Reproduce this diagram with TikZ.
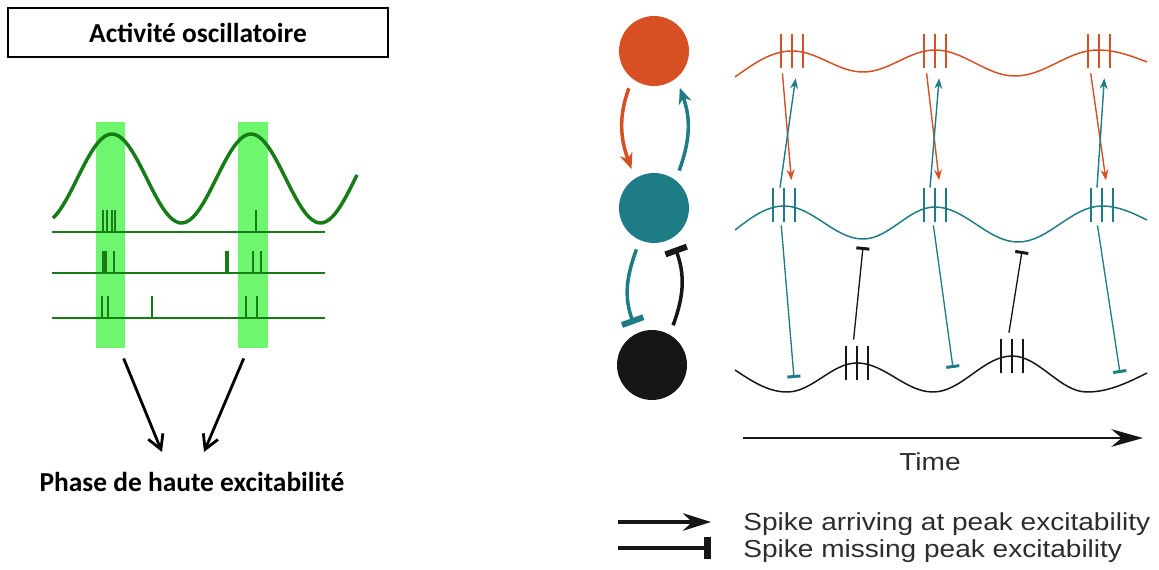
\documentclass[tikz,border=0pt]{standalone}
\usepackage{fontspec}
\newfontfamily\calibri{Carlito}
\newfontfamily\arial[FakeStretch=1.14]{Liberation Sans}
\usetikzlibrary{arrows.meta,positioning}
\definecolor{orng}{RGB}{214,80,36}
\definecolor{canard}{RGB}{30,124,134}
\definecolor{encre}{RGB}{22,22,22}
\definecolor{vertfonce}{RGB}{22,125,22}
\definecolor{vertclair}{RGB}{110,246,110}
\definecolor{gristexte}{RGB}{45,45,45}

\begin{document}
\begin{tikzpicture}[x=0.02cm,y=-0.02cm,
	titre/.style={font=\calibri\bfseries\fontsize{15.6}{18}\selectfont},
	txt/.style={font=\arial\fontsize{14}{17}\selectfont, text=gristexte, inner sep=0pt},
	bande/.style={fill=vertclair, inner sep=0pt, minimum width=0.59cm, minimum height=4.52cm},
	fleche/.style={line width=1.6pt, -{Straight Barb[length=8pt,width=9pt]}},
	neur/.style={circle, inner sep=0pt, minimum size=1.4cm, outer sep=0.2cm},
	wave/.style={line width=0.85pt},
	burst/.style={inner sep=0pt, minimum width=0.5cm, minimum height=0.68cm},
	exc/.style={line width=0.8pt, -{Stealth[length=6pt,width=4.5pt]}},
	inh/.style={line width=0.75pt, -{Bar[width=7.5pt,line width=1.7pt]}},
	fb/.style={line width=2pt, -{Stealth[length=9pt,width=7.5pt]}},
	fbinh/.style={line width=2pt, -{Bar[width=13pt,line width=3.4pt]}}]
	\useasboundingbox (0,0) rectangle (1159,570);

	\node[titre, draw, line width=1.5pt, minimum width=7.6cm, minimum height=0.98cm] (act) at (198,32.5) {Activité oscillatoire};
	\node[bande] (bande1) at (110.5,235) {};
	\node[bande] (bande2) at (253,235) {};
	\draw[vertfonce, line width=2pt] plot[domain=53:357, samples=90] (\x, {178.5-44.5*cos((\x-112)/139*360)});
	\foreach \y/\s in {232/{103,107,112,115,256}, 273/{103,105,106,114,226,228,253,261}, 318/{102,108,152,246,257}} {
		\draw[vertfonce, line width=1.5pt] (52,\y) -- (325,\y);
		\foreach \x in \s
			\draw[vertfonce, line width=1.1pt] (\x,\y) -- (\x,\y-22);
	}
	\node[titre] (phase) at (192,482) {Phase de haute excitabilité};
	\coordinate (pointe1) at (162,452);
	\coordinate (pointe2) at (204,452);
	\path[fleche, shorten <=0.22cm]
		([xshift=0.18cm]bande1.south) edge (pointe1)
		([xshift=-0.1cm]bande2.south) edge (pointe2);

	\node[neur, fill=orng] (rouge) at (654,51) {};
	\node[neur, fill=canard] (bleu) at (654,208) {};
	\node[neur, fill=encre] (noir) at (652,365) {};
	\path (rouge.236) edge[fb, orng, out=250, in=110] (bleu.120)
		(bleu.56) edge[fb, canard, out=70, in=290] (rouge.305)
		(bleu.247) edge[fbinh, canard, out=250, in=110] (noir.114)
		(noir.62) edge[fbinh, encre, out=70, in=290] (bleu.298);

	\draw[wave, orng] (735,77) sin (792,51) cos (827.5,61.5) sin (863,72) cos (899,61) sin (935,50)
		cos (975,63) sin (1015,76) cos (1056.5,63) sin (1098,50) cos (1147,62);
	\draw[wave, canard] (735,230) sin (784,206) cos (823.5,222.5) sin (863,239) cos (899,223) sin (935,207)
		cos (976.5,224.5) sin (1018,242) cos (1060,224) sin (1102,206) cos (1147,220);
	\draw[wave, encre] (735,370) sin (787,392) cos (822,377.5) sin (857,363) cos (895,377.5) sin (933,392)
		cos (972.5,374) sin (1012,356) cos (1049.5,374) sin (1087,392) cos (1147,373);
	\foreach \n/\x/\y/\c in {o1/792/51/orng, o2/935/51/orng, o3/1099/51/orng,
			t1/784/205/canard, t2/935/205/canard, t3/1102/205/canard,
			b1/857/363/encre, b2/1012/356/encre} {
		\node[burst] (\n) at (\x,\y) {};
		\foreach \d in {-0.22,0,0.22}
			\draw[\c, line width=1.2pt] ([xshift=\d cm]\n.north) -- ([xshift=\d cm]\n.south);
	}
	\path[exc, orng, shorten <=0.1cm, shorten >=0.15cm]
		([xshift=-0.2cm]o1.south) edge ([xshift=0.16cm]t1.north)
		([xshift=-0.18cm]o2.south) edge ([xshift=0.1cm]t2.north)
		([xshift=-0.18cm]o3.south) edge ([xshift=0.1cm]t3.north);
	\path[exc, canard, shorten >=0.2cm]
		([xshift=-0.08cm]t1.north) edge ([xshift=0.1cm]o1.south)
		([xshift=-0.1cm]t2.north) edge ([xshift=0.1cm]o2.south)
		([xshift=-0.1cm]t3.north) edge ([xshift=0.12cm]o3.south);
	\coordinate (miss1) at (794,378);
	\coordinate (miss2) at (953,368);
	\coordinate (miss3) at (1120,373);
	\coordinate (miss4) at (863,247);
	\coordinate (miss5) at (1022,251);
	\path[inh, canard, shorten <=0.06cm]
		([xshift=-0.06cm]t1.south) edge (miss1)
		([xshift=-0.04cm]t2.south) edge (miss2)
		([xshift=-0.1cm]t3.south) edge (miss3);
	\path[inh, encre, shorten <=0.12cm]
		([xshift=-0.08cm]b1.north) edge (miss4)
		([xshift=-0.08cm]b2.north) edge (miss5);

	\coordinate (debut) at (743,438);
	\coordinate (fin) at (1143,438);
	\draw[encre, line width=1.7pt, -{Stealth[length=18pt,width=10pt]}] (debut) -- (fin);
	\node[txt, anchor=base] (temps) at (930,471) {Time};
	\node[txt, anchor=base west] (leg1) at (743,530.5) {Spike arriving at peak excitability};
	\node[txt, anchor=base west] (leg2) at (743,557) {Spike missing peak excitability};
	\coordinate (leg1g) at (618,522);
	\coordinate (leg1d) at (711,522);
	\coordinate (leg2g) at (618,548);
	\coordinate (leg2d) at (711,548);
	\draw[encre, line width=2pt, -{Stealth[length=16pt,width=10pt]}] (leg1g) -- (leg1d);
	\draw[encre, line width=2pt, -{Bar[width=13pt,line width=4pt]}] (leg2g) -- (leg2d);
\end{tikzpicture}
\end{document}
